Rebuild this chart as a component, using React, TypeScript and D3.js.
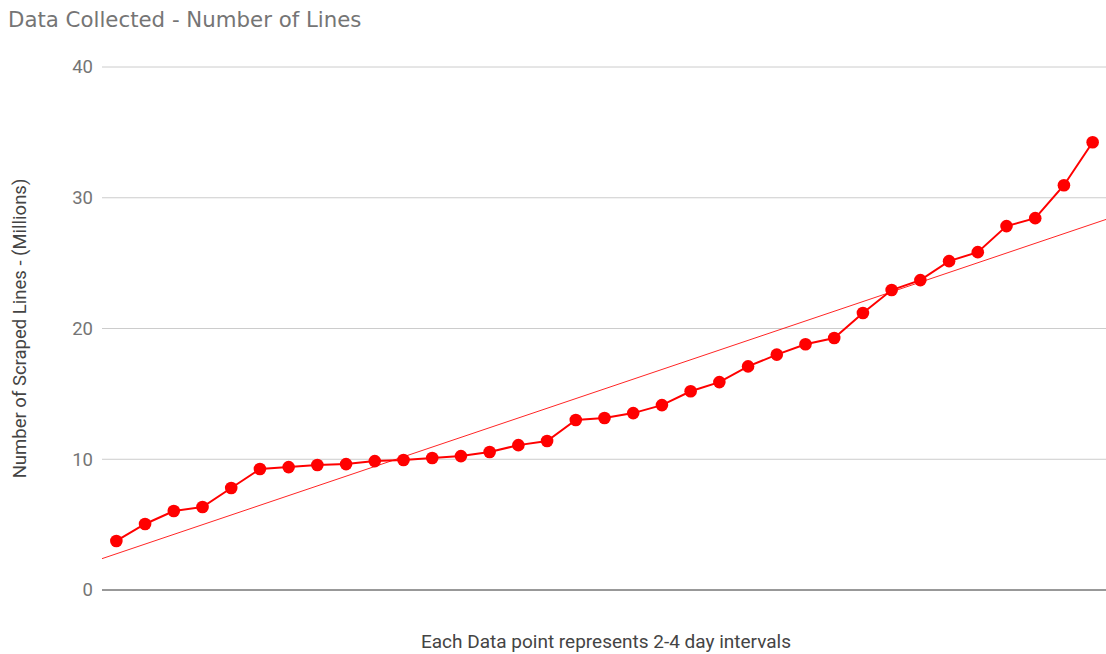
import React from "react";
import * as d3 from "d3";

const indices: number[] = Array.from({ length: 35 }, (_, i) => i + 1);
const linesMillions: number[] = [
  3.75, 5.05, 6.04, 6.35, 7.8, 9.25, 9.4, 9.56, 9.63, 9.86,
  9.94, 10.1, 10.24, 10.55, 11.08, 11.4, 13.0, 13.15, 13.53, 14.14,
  15.2, 15.9, 17.1, 18.0, 18.8, 19.27, 21.18, 22.94, 23.7, 25.15,
  25.84, 27.83, 28.44, 30.96, 34.25,
];
const yTicks: number[] = [0, 10, 20, 30, 40];

const W = 1106;
const H = 654;
const left = 102;
const right = 1107;
const top = 67;
const bottom = 590;

export default function App() {
  const x = d3.scalePoint<number>().domain(indices).range([left, right]).padding(0.5);
  const step = x.step();
  const y = d3.scaleLinear().domain([0, 40]).range([bottom, top]);

  // linear regression trendline over index
  const n = linesMillions.length;
  const mx = d3.mean(indices)!;
  const my = d3.mean(linesMillions)!;
  let sxy = 0, sxx = 0;
  indices.forEach((xi, i) => {
    sxy += (xi - mx) * (linesMillions[i] - my);
    sxx += (xi - mx) * (xi - mx);
  });
  const slope = sxy / sxx;
  const intercept = my - slope * mx;
  const xa = indices[0] - 0.5;
  const xb = indices[n - 1] + 0.5;
  const px = (v: number) => x(indices[0])! + (v - indices[0]) * step;

  const line = d3
    .line<number>()
    .x((_, i) => x(indices[i])!)
    .y((d) => y(d));

  return (
    <svg width={W} height={H} style={{ position: "absolute", left: 0, top: 0, background: "#fff" }}>
      <text x={8} y={27} fontFamily="DejaVu Sans" fontSize={21.3} fill="#757575">
        Data Collected - Number of Lines
      </text>
      {yTicks.map((t) => (
        <g key={t}>
          <line
            x1={left}
            x2={W}
            y1={y(t)}
            y2={y(t)}
            stroke={t === 0 ? "#333" : "#ccc"}
            strokeWidth={1}
          />
          <text
            x={93}
            y={y(t)}
            dy="0.35em"
            textAnchor="end"
            fontFamily="Roboto"
            fontSize={18.5}
            fill="#757575"
          >
            {t}
          </text>
        </g>
      ))}
      <line
        x1={px(xa)}
        y1={y(intercept + slope * xa)}
        x2={px(xb)}
        y2={y(intercept + slope * xb)}
        stroke="#ff0000"
        strokeWidth={1}
        opacity={0.85}
      />
      <path d={line(linesMillions) || ""} fill="none" stroke="#ff0000" strokeWidth={2} />
      {linesMillions.map((v, i) => (
        <circle key={i} cx={x(indices[i])} cy={y(v)} r={6.3} fill="#ff0000" />
      ))}
      <text
        transform={`translate(26, ${(top + bottom) / 2}) rotate(-90)`}
        textAnchor="middle"
        fontFamily="Roboto"
        fontSize={18.5}
        fill="#444"
      >
        Number of Scraped Lines - (Millions)
      </text>
      <text x={606} y={648} textAnchor="middle" fontFamily="Roboto" fontSize={19} fill="#444">
        Each Data point represents 2-4 day intervals
      </text>
    </svg>
  );
}
